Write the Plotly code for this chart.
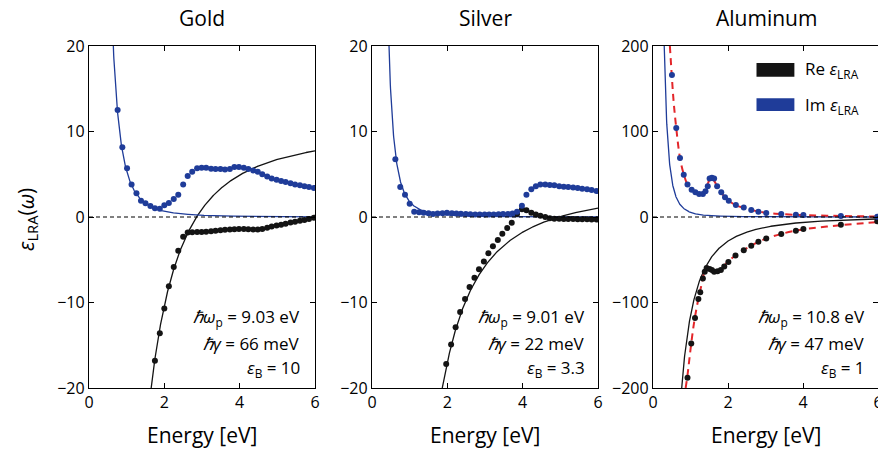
import numpy as np
import plotly.graph_objects as go

# ---------------- measured permittivity (dots) ----------------
gold_im_E = [0.76, 0.885, 1.01, 1.13, 1.26, 1.38, 1.5, 1.63, 1.75, 1.88,
             2.0, 2.12, 2.25, 2.37, 2.5, 2.62, 2.74, 2.87, 2.99, 3.11,
             3.24, 3.36, 3.49, 3.61, 3.74, 3.86, 3.98, 4.11, 4.23, 4.36,
             4.48, 4.6, 4.73, 4.85, 4.98, 5.1, 5.22, 5.35, 5.47, 5.6,
             5.72, 5.84, 5.97]
gold_im = [12.5, 8.15, 5.7, 3.8, 2.77, 1.9, 1.6, 1.29, 1.01, 0.97,
           1.37, 1.64, 2.1, 2.6, 3.8, 4.8, 5.3, 5.7, 5.77, 5.77,
           5.65, 5.6, 5.6, 5.55, 5.6, 5.85, 5.85, 5.77, 5.6, 5.45,
           5.3, 5.0, 4.75, 4.5, 4.35, 4.2, 4.1, 3.95, 3.8, 3.7,
           3.6, 3.5, 3.4]
gold_re_E = gold_im_E[8:]
gold_re = [-16.8, -13.6, -10.7, -8.1, -5.85, -3.94, -2.3, -1.8, -1.78, -1.76,
           -1.75, -1.72, -1.68, -1.62, -1.55, -1.5, -1.45, -1.42, -1.4, -1.4,
           -1.42, -1.45, -1.45, -1.4, -1.25, -1.1, -1.0, -0.9, -0.78, -0.65,
           -0.55, -0.45, -0.35, -0.22, -0.08]

silver_im_E = [0.62, 0.75, 0.876, 1.0, 1.12, 1.25, 1.37, 1.5, 1.62, 1.74,
               1.87, 1.99, 2.12, 2.24, 2.36, 2.49, 2.61, 2.74, 2.86, 2.99,
               3.11, 3.23, 3.36, 3.48, 3.61, 3.73, 3.85, 3.98, 4.1, 4.23,
               4.35, 4.47, 4.6, 4.72, 4.84, 4.97, 5.09, 5.21, 5.34, 5.46,
               5.58, 5.71, 5.83, 5.96]
silver_im = [6.75, 3.5, 2.6, 1.56, 0.62, 0.55, 0.5, 0.43, 0.35, 0.4,
             0.45, 0.5, 0.45, 0.4, 0.38, 0.35, 0.33, 0.3, 0.28, 0.28,
             0.3, 0.3, 0.33, 0.35, 0.35, 0.4, 0.6, 1.33, 2.6, 3.25,
             3.6, 3.8, 3.8, 3.75, 3.7, 3.6, 3.55, 3.5, 3.45, 3.4,
             3.3, 3.25, 3.15, 3.05]
silver_re_E = [1.97, 2.1, 2.22, 2.34, 2.47, 2.59, 2.72, 2.84, 2.97, 3.09,
               3.21, 3.34, 3.46, 3.59, 3.71, 3.85, 3.98, 4.1, 4.23, 4.35,
               4.47, 4.6, 4.72, 4.84, 4.97, 5.09, 5.21, 5.34, 5.46, 5.58,
               5.71, 5.83, 5.96]
silver_re = [-17.2, -14.9, -12.9, -11.1, -9.6, -8.2, -7.1, -6.1, -5.2, -4.25,
             -3.43, -2.7, -1.95, -1.29, -0.66, 0.35, 0.9, 0.78, 0.5, 0.3,
             0.16, 0.0, -0.16, -0.2, -0.2, -0.22, -0.22, -0.24, -0.25, -0.25,
             -0.27, -0.28, -0.3]

al_im_E = [0.505, 0.62, 0.72, 0.82, 0.92, 1.03, 1.13, 1.23, 1.33, 1.4,
           1.46, 1.51, 1.57, 1.63, 1.71, 1.82, 1.92, 2.02, 2.21, 2.42,
           2.62, 2.81, 3.02, 3.42, 3.81, 4.01, 5.01, 5.98]
al_im = [166, 104, 69, 49.5, 38, 32, 29, 27, 27, 30,
         36, 45, 46, 45, 36, 29, 23, 19, 14, 11,
         8.2, 6.2, 4.7, 3.5, 2.7, 2.3, 1.2, 0.4]
al_re_E = [0.92, 1.02, 1.12, 1.21, 1.26, 1.33, 1.38, 1.43, 1.51, 1.57,
           1.63, 1.72, 1.81, 1.9, 2.01, 2.2, 2.42, 2.62, 2.81, 3.02,
           3.42, 3.81, 4.01, 5.01, 5.98]
al_re = [-188, -148, -118, -96, -88, -72, -64, -59.6, -60.8, -62,
         -64, -63.5, -62, -58, -52.6, -45, -39, -33.5, -29, -25,
         -20, -16, -14, -9, -5]

# multi-oscillator fit for aluminum (red dashed)
al_fit_im_E = [0.45, 0.5, 0.55, 0.62, 0.72, 0.82, 0.92, 1.03, 1.13, 1.23,
               1.3, 1.4, 1.47, 1.53, 1.6, 1.7, 1.82, 1.92, 2.02, 2.2,
               2.4, 2.6, 2.8, 3.0, 3.4, 3.8, 4.0, 5.0, 6.0]
al_fit_im = [200, 166, 135, 104, 69, 50, 38, 32, 29, 27,
             27.5, 32, 40, 45, 44, 37, 29, 23, 19, 14,
             11, 8.5, 6.5, 5, 3.5, 2.6, 2.3, 1.2, 0.5]
al_fit_re_E = [0.87, 0.92, 1.0, 1.1, 1.2, 1.3, 1.38, 1.45, 1.52, 1.6,
               1.68, 1.8, 1.9, 2.0, 2.2, 2.4, 2.6, 2.8, 3.0, 3.4,
               3.8, 4.0, 5.0, 6.0]
al_fit_re = [-200, -185, -155, -122, -98, -78, -63, -58, -61, -65,
             -64, -61, -57, -52, -45, -39, -34, -29.5, -25.5, -20,
             -16, -14.5, -9.5, -6]

# ---------------- Drude parameters (eV) ----------------
names = ["Gold", "Silver", "Aluminum"]
hbar_wp = [9.03, 9.01, 10.8]
hbar_gamma = [0.066, 0.022, 0.047]
eps_B = [10, 3.3, 1]
wp_text = ["9.03 eV", "9.01 eV", "10.8 eV"]
gamma_text = ["66 meV", "22 meV", "47 meV"]
epsB_text = ["10", "3.3", "1"]
y_lims = [20, 20, 200]

BLUE = "#1f3c99"
BLACK = "#141414"
RED = "#e3262a"
FONT = "Open Sans"

W, H = 878, 450
x_dom = [(89 / W, 315 / W), (372 / W, 598 / W), (653 / W, 1.0)]
y_dom = (62 / H, 404 / H)

data_re = [(gold_re_E, gold_re), (silver_re_E, silver_re), (al_re_E, al_re)]
data_im = [(gold_im_E, gold_im), (silver_im_E, silver_im), (al_im_E, al_im)]

E = np.linspace(0.05, 6.0, 1200)

fig = go.Figure()
layout = dict(width=W, height=H, margin=dict(l=0, r=0, t=0, b=0),
              paper_bgcolor="white", plot_bgcolor="white", showlegend=False,
              font=dict(family=FONT, color="black"))
annotations = []
shapes = []

for i in range(3):
    sx = "" if i == 0 else str(i + 1)
    xr, yr = "x" + sx, "y" + sx
    lim = y_lims[i]

    # Drude model eps(w) = eps_B - wp^2 / (w^2 + i w gamma)
    eps = eps_B[i] - hbar_wp[i] ** 2 / (E ** 2 + 1j * E * hbar_gamma[i])
    fig.add_trace(go.Scatter(x=E, y=eps.real, mode="lines", xaxis=xr, yaxis=yr,
                             line=dict(color=BLACK, width=1.3)))
    fig.add_trace(go.Scatter(x=E, y=eps.imag, mode="lines", xaxis=xr, yaxis=yr,
                             line=dict(color=BLUE, width=1.3)))

    if i == 2:
        fig.add_trace(go.Scatter(x=al_fit_re_E, y=al_fit_re, mode="lines",
                                 xaxis=xr, yaxis=yr, line_shape="spline",
                                 line=dict(color=RED, width=2, dash="7px,5px")))
        fig.add_trace(go.Scatter(x=al_fit_im_E, y=al_fit_im, mode="lines",
                                 xaxis=xr, yaxis=yr, line_shape="spline",
                                 line=dict(color=RED, width=2, dash="7px,5px")))

    fig.add_trace(go.Scatter(x=data_re[i][0], y=data_re[i][1], mode="markers",
                             xaxis=xr, yaxis=yr,
                             marker=dict(color=BLACK, size=6, line_width=0)))
    fig.add_trace(go.Scatter(x=data_im[i][0], y=data_im[i][1], mode="markers",
                             xaxis=xr, yaxis=yr,
                             marker=dict(color=BLUE, size=6, line_width=0)))

    axis_common = dict(showgrid=False, zeroline=False, showline=True,
                       linecolor="black", linewidth=1.4, mirror="allticks",
                       ticks="inside", ticklen=5, tickwidth=1, tickcolor="black",
                       tickfont=dict(size=16, family=FONT), automargin=False)
    layout["xaxis" + sx] = dict(domain=x_dom[i], anchor=yr, range=[0, 6],
                                tickvals=[0, 2, 4, 6], ticklabeloverflow="allow",
                                **axis_common)
    layout["yaxis" + sx] = dict(domain=y_dom, anchor=xr, range=[-lim, lim],
                                tickvals=[-lim, -lim / 2, 0, lim / 2, lim],
                                **axis_common)

    # dashed zero line
    shapes.append(dict(type="line", xref=xr + " domain", yref=yr,
                       x0=0, x1=1, y0=0, y1=0,
                       line=dict(color="black", width=1, dash="4px,3px")))

    xc = (x_dom[i][0] + x_dom[i][1]) / 2
    if i == 2:
        xc = (653 + 226 / 2) / W
    annotations.append(dict(text=names[i], x=xc, y=1 - 18 / H, xref="paper",
                            yref="paper", showarrow=False, xanchor="center",
                            yanchor="middle", font=dict(size=21)))
    annotations.append(dict(text="Energy [eV]", x=xc, y=15 / H, xref="paper",
                            yref="paper", showarrow=False, xanchor="center",
                            yanchor="middle", font=dict(size=21)))

    params = [
        ("<i>ℏω</i><sub>p</sub> = " + wp_text[i], 0.205),
        ("<i>ℏγ</i> = " + gamma_text[i], 0.129),
        ("<i>ε</i><sub>B</sub> = " + epsB_text[i], 0.056),
    ]
    x_right = 0.943 if i == 0 else 0.951
    for txt, yy in params:
        annotations.append(dict(text=txt, x=x_right, y=yy, xref=xr + " domain",
                                yref=yr + " domain", showarrow=False,
                                xanchor="right", yanchor="middle",
                                font=dict(size=17)))

# y-axis label
annotations.append(dict(text="<i>ε</i><sub>LRA</sub>(<i>ω</i>)", x=27 / W,
                        y=(H - 220) / H, xref="paper", yref="paper",
                        showarrow=False, textangle=-90, xanchor="center",
                        yanchor="middle", font=dict(size=21)))

# legend swatches in the aluminum panel
for label, color, y0, y1, yt in [("Re", BLACK, 164, 180, 172),
                                 ("Im", BLUE, 124, 139, 131)]:
    shapes.append(dict(type="rect", xref="x3", yref="y3", x0=2.76, x1=3.77,
                       y0=y0, y1=y1, fillcolor=color, line_width=0))
    annotations.append(dict(text=label + " <i>ε</i><sub>LRA</sub>", x=4.0, y=yt,
                            xref="x3", yref="y3", showarrow=False,
                            xanchor="left", yanchor="middle",
                            font=dict(size=17)))

layout["annotations"] = annotations
layout["shapes"] = shapes
fig.update_layout(**layout)

fig.write_html("out.html")
